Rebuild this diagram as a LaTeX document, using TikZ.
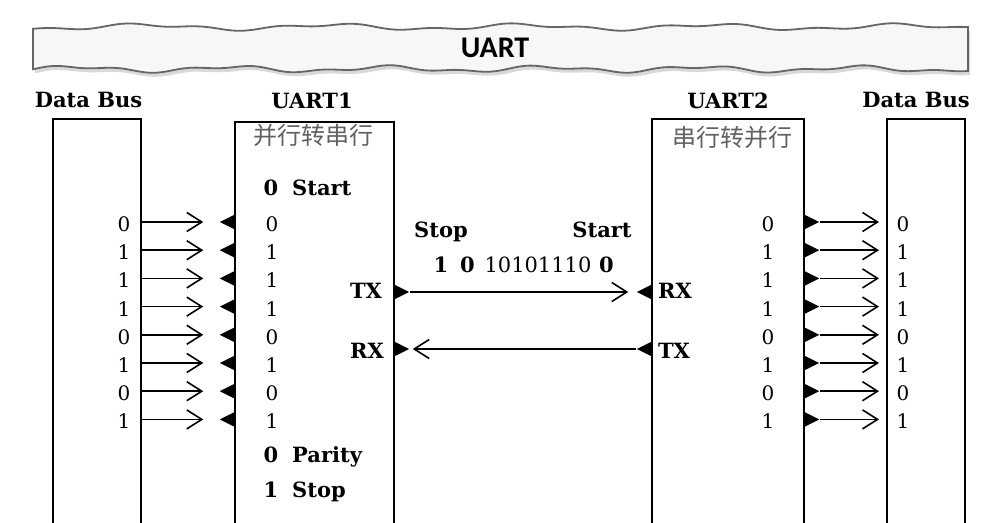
\documentclass[tikz,border=0pt]{standalone}
\usepackage{fontspec}
\setmainfont{DejaVu Serif}
\newfontfamily\cjk{Noto Sans CJK SC}
\newfontfamily\bannerfont{Carlito}
\usetikzlibrary{arrows.meta,shapes.geometric}
\tikzset{
  box/.style={draw, line width=2pt, minimum height=470pt, anchor=north, inner sep=0pt},
  lbl/.style={font={\fontsize{21}{21}\selectfont\bfseries}, anchor=base, inner sep=0pt},
  lblw/.style={font={\fontsize{21}{21}\selectfont\bfseries}, anchor=base west, inner sep=0pt},
  bit/.style={font={\fontsize{20}{20}\selectfont}, inner sep=0pt},
  bitb/.style={font={\fontsize{21}{21}\selectfont\bfseries}, anchor=base, inner sep=0pt},
  bits/.style={font={\fontsize{21}{21}\selectfont}, anchor=base, inner sep=0pt},
  cn/.style={font={\cjk\fontsize{24}{24}\selectfont}, text=black!62, inner sep=0pt},
  pinL/.style={isosceles triangle, isosceles triangle stretches, fill=black, inner sep=0pt,
    minimum height=15pt, minimum width=15pt, shape border rotate=180, anchor=lower side},
  pinR/.style={isosceles triangle, isosceles triangle stretches, fill=black, inner sep=0pt,
    minimum height=15pt, minimum width=15pt, shape border rotate=0, anchor=lower side},
  arr/.style={line width=1.6pt, -{Straight Barb[length=15pt,width=19pt,line width=1.6pt]}},
}
\begin{document}
\begin{tikzpicture}[x=1pt,y=-1pt]
\useasboundingbox (0,0) rectangle (992,522);
\fill[white] (0,0) rectangle (992,522);

% banner shadow
\begin{scope}[shift={(2,4)}]
\fill[black!15] plot[domain=33:968, samples=150, smooth] (\x,{27+2.4*sin(\x*1.9)+1.4*sin(\x*4.7+40)})
  -- plot[domain=968:33, samples=150, smooth] (\x,{69+2.4*sin(\x*2.3+100)+1.4*sin(\x*5.3)}) -- cycle;
\end{scope}
% banner
\path[draw=black!60, line width=1.8pt, fill=black!3]
  plot[domain=33:968, samples=150, smooth] (\x,{27+2.4*sin(\x*1.9)+1.4*sin(\x*4.7+40)})
  -- plot[domain=968:33, samples=150, smooth] (\x,{69+2.4*sin(\x*2.3+100)+1.4*sin(\x*5.3)}) -- cycle;
\node[font={\bannerfont\bfseries\fontsize{30}{30}\selectfont}] (title) at (495,48) {UART};

% boxes
\node[box, minimum width=88pt] (bus1) at (97,118) {};
\node[box, minimum width=159pt] (uart1) at (314.5,121) {};
\node[box, minimum width=152pt] (uart2) at (728,118) {};
\node[box, minimum width=78pt] (bus2) at (926,118) {};

% labels
\node[lbl] (lbus1) at (88.5,107) {Data Bus};
\node[lbl] (luart1) at (312,108) {UART1};
\node[lbl] (luart2) at (728,108) {UART2};
\node[lbl] (lbus2) at (916,107) {Data Bus};
\node[cn] (cn1) at (313,135) {并行转串行};
\node[cn] (cn2) at (732,137) {串行转并行};

% frame bits inside UART1
\node[bitb] (s0) at (271,195) {0};
\node[lblw] (sstart) at (292,195) {Start};
\node[bitb] (p0) at (271,462) {0};
\node[lblw] (pparity) at (292,462) {Parity};
\node[bitb] (t1) at (271,497) {1};
\node[lblw] (tstop) at (292,497) {Stop};

% parallel rows
\foreach [count=\i from 0] \b in {0,1,1,1,0,1,0,1} {
  \pgfmathsetmacro\yy{222+28.2*\i}
  \node[pinL] (pa\i) at (235,\yy) {};
  \node[bit] (la\i) at (124,\yy+2) {\b};
  \node[bit] (ua\i) at (272,\yy+2) {\b};
  \draw[arr, shorten >=16pt] (bus1.east |- pa\i.apex) -- (pa\i.apex);
  \node[pinR] (pb\i) at (804,\yy) {};
  \node[bit] (ub\i) at (768,\yy+2) {\b};
  \node[bit] (rb\i) at (903,\yy+2) {\b};
  \draw[arr, shorten >=7pt] (pb\i.apex) -- (bus2.west |- pb\i.apex);
}

% serial link
\node[pinR] (tx1) at (394,292) {};
\node[pinL] (rx2) at (652,292) {};
\draw[arr, shorten >=8pt] (tx1.apex) -- (rx2.apex);
\node[pinR] (rx1) at (394,349) {};
\node[pinL] (tx2) at (652,349) {};
\draw[arr, shorten >=3pt] (tx2.apex) -- (rx1.apex);
\node[lbl] (ltx1) at (366,298) {TX};
\node[lbl] (lrx1) at (367,358) {RX};
\node[lbl] (lrx2) at (675,298) {RX};
\node[lbl] (ltx2) at (674,358) {TX};

% serial frame
\node[lbl] (mstop) at (441,237) {Stop};
\node[lbl] (mstart) at (602,237) {Start};
\node[bitb] (f1) at (441,272) {1};
\node[bitb] (f2) at (467.5,272) {0};
\node[bits] (f3) at (538,272) {10101110};
\node[bitb] (f4) at (606.5,272) {0};
\end{tikzpicture}
\end{document}
